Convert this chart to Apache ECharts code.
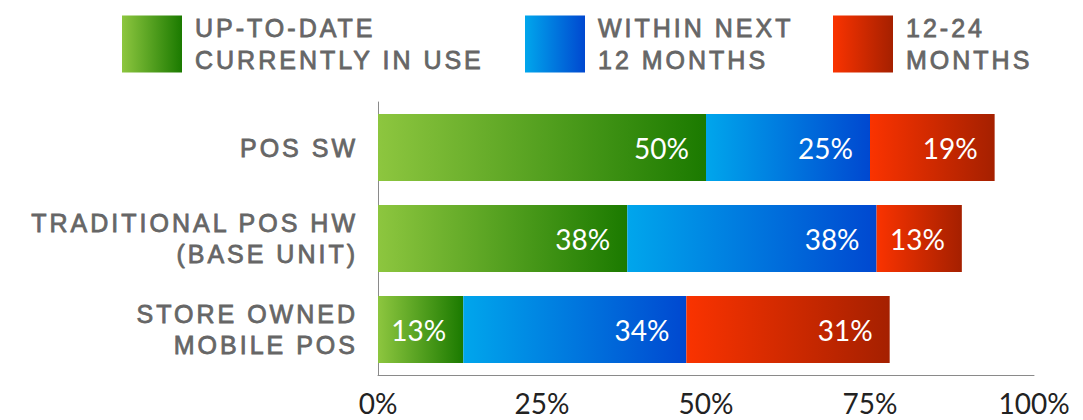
<!DOCTYPE html>
<html>
<head>
<meta charset="utf-8">
<script src="https://cdn.jsdelivr.net/npm/echarts@6/dist/echarts.min.js"></script>
<style>
  html, body { margin: 0; padding: 0; background: #fff; }
  #chart { width: 1083px; height: 420px; }
  #chart text[fill="#666666"] { letter-spacing: 3px; }
</style>
</head>
<body>
<div id="chart"></div>
<script>
const categories = ['POS SW', 'TRADITIONAL POS HW\n(BASE UNIT)', 'STORE OWNED\nMOBILE POS'];
const seriesNames = ['UP-TO-DATE\nCURRENTLY IN USE', 'WITHIN NEXT\n12 MONTHS', '12-24\nMONTHS'];
const upToDate = [50, 38, 13];
const withinNext12 = [25, 38, 34];
const months12to24 = [19, 13, 31];
const xTickValues = [0, 25, 50, 75, 100];

const gradients = [
  ['#8dc63f', '#1b7a00'],
  ['#00a6ec', '#0048d0'],
  ['#fa3300', '#a52000']
];
const seriesData = [upToDate, withinNext12, months12to24];

function grad(c) {
  return new echarts.graphic.LinearGradient(0, 0, 1, 0, [
    { offset: 0, color: c[0] }, { offset: 1, color: c[1] }
  ]);
}

const chart = echarts.init(document.getElementById('chart'), null, { renderer: 'svg' });

const labelFont = {
  color: '#666666',
  fontFamily: 'Liberation Sans',
  fontSize: 25,
  textBorderColor: '#666666',
  textBorderWidth: 0.8
};

const legendLefts = [122, 525, 833];
const legends = seriesNames.map((n, i) => ({
  data: [n],
  left: legendLefts[i],
  top: 12,
  padding: 0,
  icon: 'rect',
  itemWidth: 60,
  itemHeight: 57,
  selectedMode: false,
  textStyle: Object.assign({}, labelFont, { lineHeight: 32, padding: [0, 0, 0, 8] })
}));

chart.setOption({
  animation: false,
  backgroundColor: '#fff',
  legend: legends,
  grid: { left: 378, right: 49, top: 102, bottom: 45, containLabel: false },
  xAxis: {
    type: 'value',
    min: xTickValues[0],
    max: xTickValues[xTickValues.length - 1],
    interval: xTickValues[1] - xTickValues[0],
    axisLine: { show: true, lineStyle: { color: '#8a8a8a', width: 1 } },
    axisTick: { show: false },
    splitLine: { show: false },
    axisLabel: {
      formatter: '{value}%',
      color: '#222',
      fontFamily: 'Lato',
      fontSize: 28,
      margin: 14
    }
  },
  yAxis: {
    type: 'category',
    inverse: true,
    data: categories,
    axisLine: { show: true, lineStyle: { color: '#8a8a8a', width: 1 } },
    axisTick: { show: false },
    axisLabel: Object.assign({}, labelFont, { lineHeight: 31, margin: 20, align: 'right' })
  },
  series: seriesNames.map((n, i) => ({
    name: n,
    type: 'bar',
    stack: 'total',
    barWidth: 67,
    data: seriesData[i],
    itemStyle: { color: grad(gradients[i]) },
    label: {
      show: true,
      position: 'insideRight',
      distance: 17,
      formatter: '{c}%',
      color: '#fff',
      fontFamily: 'Lato',
      fontSize: 28
    }
  }))
});
</script>
</body>
</html>
